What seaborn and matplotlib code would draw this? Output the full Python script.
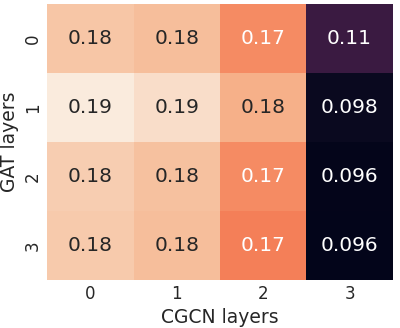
import numpy as np
import pandas as pd
import seaborn as sns
import matplotlib
matplotlib.use("Agg")
import matplotlib.pyplot as plt

gat_layers = [0, 1, 2, 3]
cgcn_layers = [0, 1, 2, 3]
# rows = GAT layers, cols = CGCN layers
row_0 = [0.181, 0.179, 0.1675, 0.110]
row_1 = [0.1905, 0.187, 0.176, 0.098]
row_2 = [0.183, 0.180, 0.1675, 0.096]
row_3 = [0.182, 0.179, 0.165, 0.0955]

df = pd.DataFrame([row_0, row_1, row_2, row_3], index=gat_layers, columns=cgcn_layers)

sns.set_theme(style="white")
fig, ax = plt.subplots(figsize=(4.0, 3.28), dpi=100)
sns.heatmap(df, annot=True, fmt=".2g", cbar=False, ax=ax, annot_kws={"size": 14.5})
ax.set_xlabel("CGCN layers", fontsize=13.5, labelpad=3)
ax.set_ylabel("GAT layers", fontsize=13.5, labelpad=3)
ax.tick_params(labelsize=12, length=0, pad=4)
fig.subplots_adjust(left=0.118, right=0.982, top=0.988, bottom=0.147)
plt.savefig("out.png", dpi=100)
